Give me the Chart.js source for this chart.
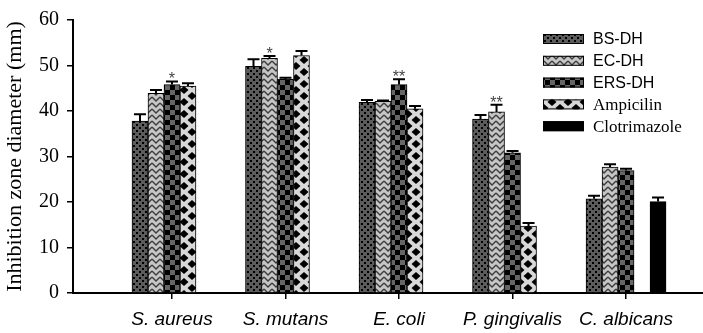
<!DOCTYPE html>
<html>
<head>
<meta charset="utf-8">
<script src="https://cdn.jsdelivr.net/npm/chart.js@4.4.1/dist/chart.umd.min.js"></script>
<style>
  html, body { margin: 0; padding: 0; background: #fff; }
  #wrap { width: 703px; height: 333px; }
</style>
</head>
<body>
<div id="wrap"><canvas id="chart"></canvas></div>
<script>
// values (mm), error = upper SD
const categories = ['S. aureus', 'S. mutans', 'E. coli', 'P. gingivalis', 'C. albicans'];
const seriesNames = ['BS-DH', 'EC-DH', 'ERS-DH', 'Ampicilin', 'Clotrimazole'];
const yTicks = [0, 10, 20, 30, 40, 50, 60];

const bsValues   = [37.8, 49.8, 41.9, 38.2, 20.7];
const bsErrors   = [1.5, 1.6, 0.5, 0.9, 0.7];
const ecValues   = [43.9, 51.6, 42.1, 39.8, 27.7];
const ecErrors   = [0.7, 0.5, 0.2, 1.6, 0.6];
const ersValues  = [45.8, 47.0, 45.8, 30.8, 26.9];
const ersErrors  = [0.7, 0.3, 1.2, 0.4, 0.4];
const ampValues  = [45.5, 52.2, 40.5, 14.7, null];
const ampErrors  = [0.6, 1.0, 0.6, 0.7, null];
const clotValues = [null, null, null, null, 20.1];
const clotErrors = [null, null, null, null, 0.9];

// significance marks
const ecMarks  = ['', '*', '', '**', ''];
const ersMarks = ['*', '', '**', '', ''];

// fill patterns, one per series
function makeTile(kind) {
    const c = document.createElement('canvas');
    const g = c.getContext('2d');
    if (kind === 'dots') {
        c.width = 6; c.height = 6;
        g.fillStyle = '#5c5c5c'; g.fillRect(0, 0, 6, 6);
        g.fillStyle = '#000';
        g.fillRect(1, 1, 2, 2);
        g.fillRect(4, 4, 2, 2);
    } else if (kind === 'zigzag') {
        c.width = 8; c.height = 6;
        g.fillStyle = '#c6c6c6'; g.fillRect(0, 0, 8, 6);
        g.strokeStyle = '#3c3c3c'; g.lineWidth = 1.4;
        g.beginPath();
        g.moveTo(0, 1); g.lineTo(4, 5); g.lineTo(8, 1);
        g.stroke();
    } else if (kind === 'check') {
        c.width = 10; c.height = 10;
        g.fillStyle = '#000'; g.fillRect(0, 0, 10, 10);
        g.fillStyle = '#666';
        g.fillRect(0, 0, 5, 5);
        g.fillRect(5, 5, 5, 5);
    } else if (kind === 'diamond') {
        c.width = 16; c.height = 12;
        g.fillStyle = '#d8d8d8'; g.fillRect(0, 0, 16, 12);
        g.fillStyle = '#000';
        const dia = (cx, cy) => {
            g.beginPath();
            g.moveTo(cx - 4.5, cy); g.lineTo(cx, cy - 4); g.lineTo(cx + 4.5, cy); g.lineTo(cx, cy + 4);
            g.closePath(); g.fill();
        };
        dia(0, 0); dia(16, 0); dia(0, 12); dia(16, 12); dia(8, 6);
    } else {
        c.width = 4; c.height = 4;
        g.fillStyle = '#000'; g.fillRect(0, 0, 4, 4);
    }
    return c;
}
const ctx = document.getElementById('chart').getContext('2d');
const fills = ['dots', 'zigzag', 'check', 'diamond', 'solid'].map(k => ctx.createPattern(makeTile(k), 'repeat'));

const seriesValues = [bsValues, ecValues, ersValues, ampValues, clotValues];
const seriesErrors = [bsErrors, ecErrors, ersErrors, ampErrors, clotErrors];
const seriesMarks = [null, ecMarks, ersMarks, null, null];

const datasets = seriesNames.map((name, s) => ({
    label: name,
    data: seriesValues[s].map((v, i) => ({ x: i, y: v })),
    errors: seriesErrors[s],
    marks: seriesMarks[s],
    backgroundColor: fills[s],
    borderColor: '#000',
    borderWidth: 1,
    barThickness: 16
}));

const errorBars = {
    id: 'errorBars',
    afterDatasetsDraw(chart) {
        const c = chart.ctx;
        const yScale = chart.scales.y;
        c.save();
        chart.data.datasets.forEach((ds, di) => {
            const meta = chart.getDatasetMeta(di);
            meta.data.forEach((bar, i) => {
                const v = ds.data[i].y;
                const e = ds.errors[i];
                if (v == null || e == null) return;
                const top = yScale.getPixelForValue(v + e);
                c.strokeStyle = '#000';
                c.lineWidth = 2;
                c.beginPath();
                c.moveTo(bar.x, bar.y);
                c.lineTo(bar.x, top);
                c.moveTo(bar.x - 6, top);
                c.lineTo(bar.x + 6, top);
                c.stroke();
                if (ds.marks && ds.marks[i]) {
                    c.fillStyle = '#444';
                    c.font = '16px "Liberation Sans", Arial, sans-serif';
                    c.textAlign = 'center';
                    c.textBaseline = 'alphabetic';
                    c.fillText(ds.marks[i], bar.x, top + 3);
                }
            });
        });
        c.restore();
    }
};

// legend with mixed fonts like the original figure
const sideLegend = {
    id: 'sideLegend',
    afterDraw(chart) {
        const c = chart.ctx;
        c.save();
        seriesNames.forEach((name, i) => {
            const yc = 39 + i * 21.8;
            c.fillStyle = fills[i];
            c.fillRect(543, yc - 5, 41, 10);
            c.strokeStyle = '#000';
            c.lineWidth = 1;
            c.strokeRect(543.5, yc - 4.5, 40, 9);
            c.fillStyle = '#000';
            c.textAlign = 'left';
            c.textBaseline = 'middle';
            c.font = i < 3 ? '16px "Liberation Sans", Arial, sans-serif'
                           : '17px "Liberation Serif", "Times New Roman", serif';
            c.fillText(name, 593, yc + 1);
        });
        c.restore();
    }
};

new Chart(ctx, {
    type: 'bar',
    data: { datasets: datasets },
    options: {
        responsive: true,
        maintainAspectRatio: false,
        animation: false,
        layout: { padding: { top: 12, right: 0, left: 0, bottom: 0 } },
        plugins: {
            legend: { display: false },
            tooltip: { enabled: false }
        },
        scales: {
            x: {
                type: 'linear',
                min: -0.872,
                max: 4.678,
                offset: false,
                afterBuildTicks: s => { s.ticks = categories.map((c, i) => ({ value: i })); },
                afterFit: s => { s.height = 40; },
                ticks: {
                    callback: v => categories[v],
                    color: '#000',
                    padding: 9,
                    autoSkip: false,
                    maxRotation: 0,
                    font: { family: '"Liberation Sans", Arial, sans-serif', size: 19, style: 'italic' }
                },
                grid: { offset: false, drawOnChartArea: false, drawTicks: true, tickLength: 6, color: '#000', lineWidth: 1.5 },
                border: { display: true, color: '#000', width: 2 }
            },
            y: {
                min: 0,
                max: 60,
                afterBuildTicks: s => { s.ticks = yTicks.map(v => ({ value: v })); },
                afterFit: s => { s.width = 73; },
                ticks: {
                    color: '#000',
                    padding: 8,
                    font: { family: '"Liberation Serif", "Times New Roman", serif', size: 20 }
                },
                grid: { drawOnChartArea: false, drawTicks: true, tickLength: 6, color: '#000', lineWidth: 1.5 },
                border: { display: true, color: '#000', width: 2 },
                title: {
                    display: true,
                    text: 'Inhibition zone diameter (mm)',
                    color: '#000',
                    padding: { top: 2, bottom: 0 },
                    font: { family: '"Liberation Serif", "Times New Roman", serif', size: 22, lineHeight: 1.2 }
                }
            }
        }
    },
    plugins: [errorBars, sideLegend]
});
</script>
</body>
</html>
